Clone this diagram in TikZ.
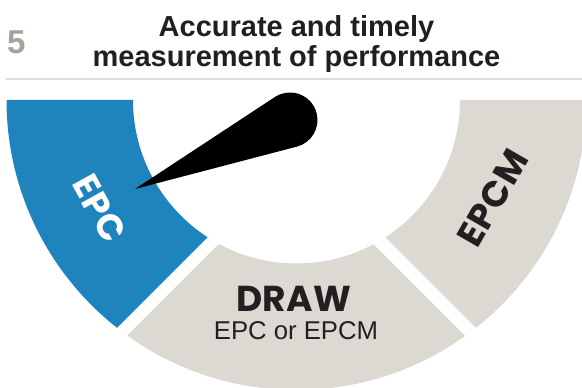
\documentclass[tikz,border=0pt]{standalone}
\usepackage{fontspec}
\setmainfont{Liberation Sans}
\newfontfamily\geo[LetterSpace=1.5]{Poppins}
\usetikzlibrary{calc}
\definecolor{ringblue}{HTML}{1F84BD}
\definecolor{ringgray}{HTML}{DCD9D3}
\definecolor{numgray}{HTML}{A6A199}
\definecolor{ink}{HTML}{231F20}
\definecolor{rulegray}{HTML}{DEDBD5}
\newcommand\myannulus{(c) ++(180:290) arc[start angle=180,end angle=360,radius=290] -- ++(-126.5,0) arc[start angle=360,end angle=180,radius=163.5] -- cycle}
\begin{document}
\begin{tikzpicture}[x=1pt,y=1pt,
  seglabel/.style={font=\geo\bfseries\fontsize{36}{36}\selectfont, inner sep=0pt},
  titletext/.style={font=\bfseries\fontsize{29}{29}\selectfont, text=ink, anchor=base, inner sep=0pt}]
\useasboundingbox (0,0) rectangle (582,388);
\clip (0,0) rectangle (582,388);
\coordinate (c) at (296.5,288);
% blue segment
\begin{scope}
\clip (-100,-157) -- (600,543) -- (-100,543) -- cycle;
\fill[ringblue] \myannulus;
\end{scope}
% bottom segment
\begin{scope}
\clip (296,221) -- (-204,-279) -- (796,-279) -- cycle;
\fill[ringgray] \myannulus;
\end{scope}
% right segment
\begin{scope}
\clip (-100,636) -- (700,-164) -- (700,636) -- cycle;
\fill[ringgray] \myannulus;
\end{scope}
% needle
\coordinate (hub) at (290,268);
\coordinate (tip) at (135,199);
\fill[black] (tip) -- ($(hub)+(-75.33:27.5)$) arc[start angle=-75.33,end angle=123.33,radius=27.5] -- cycle;
% labels
\node[seglabel, text=white, rotate=-61] (epc) at ($(c)+(208.8:225)$) {EPC};
\node[seglabel, text=ink, rotate=60] (epcm) at (493,190) {EPCM};
\node[seglabel, text=ink, anchor=base] (draw) at (294,76) {DRAW};
\node[font=\fontsize{25.7}{26}\selectfont, text=ink, anchor=base, inner sep=0pt] (sub) at (296,48) {EPC or EPCM};
% title
\node[titletext] (t1) at (296.5,351) {Accurate and timely};
\node[titletext] (t2) at (296.5,321) {measurement of performance};
\node[font=\bfseries\fontsize{33}{33}\selectfont, text=numgray, anchor=base west, inner sep=0pt] (num) at (7,334) {5};
\draw[rulegray, line width=2.5pt] (6,309) -- (582,309);
\end{tikzpicture}
\end{document}
